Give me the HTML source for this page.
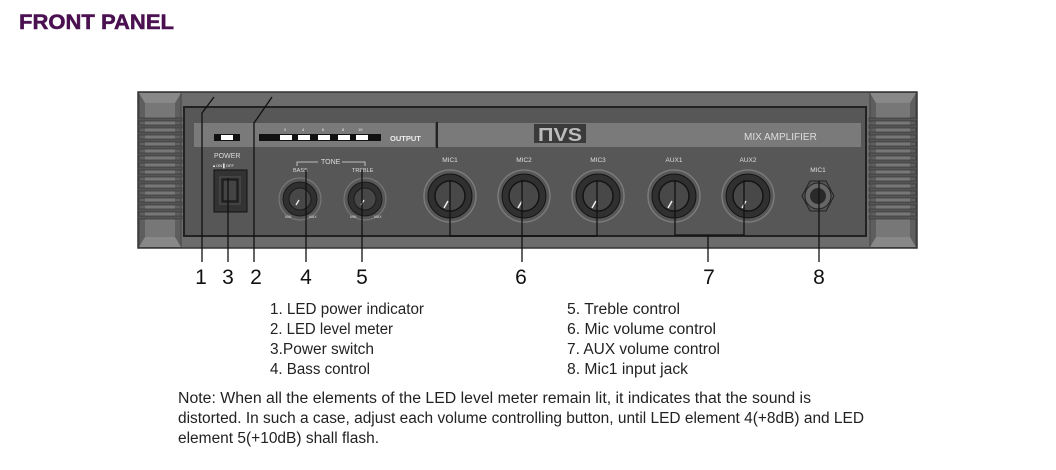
<!DOCTYPE html>
<html><head><meta charset="utf-8"><style>
html,body{margin:0;padding:0;background:#fff;width:1056px;height:470px;overflow:hidden}
svg{display:block}
</style></head><body>
<svg width="1056" height="470" viewBox="0 0 1056 470" xmlns="http://www.w3.org/2000/svg" font-family="Liberation Sans, sans-serif">
<text x="19" y="29" font-size="21" font-weight="bold" fill="#4a1050" stroke="#4a1050" stroke-width="0.5" textLength="155" lengthAdjust="spacingAndGlyphs">FRONT PANEL</text>
<!-- chassis -->
<rect x="138" y="92" width="779" height="156" fill="#6c6c6c" stroke="#333" stroke-width="1.5"/>
<rect x="139" y="93" width="42" height="154" fill="#5e5e5e" stroke="#444"/>
<polygon points="139,93 181,93 175,103 145,103" fill="#888"/>
<polygon points="139,247 181,247 175,237 145,237" fill="#888"/>
<rect x="145" y="103" width="30" height="134" fill="#777"/>
<g fill="#555" stroke="#333" stroke-width="0.6">
<rect x="138" y="118" width="44" height="3"/><rect x="138" y="125" width="44" height="3"/><rect x="138" y="132" width="44" height="3"/><rect x="138" y="139" width="44" height="3"/><rect x="138" y="146" width="44" height="3"/><rect x="138" y="153" width="44" height="3"/><rect x="138" y="160" width="44" height="3"/><rect x="138" y="167" width="44" height="3"/><rect x="138" y="174" width="44" height="3"/><rect x="138" y="181" width="44" height="3"/><rect x="138" y="188" width="44" height="3"/><rect x="138" y="195" width="44" height="3"/><rect x="138" y="202" width="44" height="3"/><rect x="138" y="209" width="44" height="3"/><rect x="138" y="216" width="44" height="3"/>
</g>
<rect x="870" y="93" width="46" height="154" fill="#5e5e5e" stroke="#444"/>
<polygon points="870,93 916,93 910,103 876,103" fill="#888"/>
<polygon points="870,247 916,247 910,237 876,237" fill="#888"/>
<rect x="876" y="103" width="34" height="134" fill="#777"/>
<g fill="#555" stroke="#333" stroke-width="0.6">
<rect x="869" y="118" width="48" height="3"/><rect x="869" y="125" width="48" height="3"/><rect x="869" y="132" width="48" height="3"/><rect x="869" y="139" width="48" height="3"/><rect x="869" y="146" width="48" height="3"/><rect x="869" y="153" width="48" height="3"/><rect x="869" y="160" width="48" height="3"/><rect x="869" y="167" width="48" height="3"/><rect x="869" y="174" width="48" height="3"/><rect x="869" y="181" width="48" height="3"/><rect x="869" y="188" width="48" height="3"/><rect x="869" y="195" width="48" height="3"/><rect x="869" y="202" width="48" height="3"/><rect x="869" y="209" width="48" height="3"/><rect x="869" y="216" width="48" height="3"/>
</g>
<!-- inner panel -->
<rect x="184" y="107" width="682" height="129" fill="#575757" stroke="#222" stroke-width="2"/>
<rect x="194" y="123" width="241" height="24" fill="#7a7a7a"/>
<rect x="436" y="122" width="2" height="26" fill="#222"/>
<rect x="438" y="123" width="423" height="24" fill="#7a7a7a"/>
<rect x="214" y="134" width="26" height="7" fill="#111"/><rect x="221" y="135" width="12" height="5" fill="#fff"/>
<rect x="259" y="134" width="122" height="7" fill="#111"/>
<rect x="280" y="135" width="12" height="5" fill="#fff"/><rect x="298" y="135" width="12" height="5" fill="#fff"/><rect x="318" y="135" width="12" height="5" fill="#fff"/><rect x="338" y="135" width="12" height="5" fill="#fff"/><rect x="356" y="135" width="12" height="5" fill="#fff"/>
<g font-size="4" fill="#eee"><text x="284" y="131">2</text><text x="302" y="131">4</text><text x="322" y="131">6</text><text x="342" y="131">8</text><text x="358" y="131">10</text></g>
<text x="390" y="141" font-size="7.5" font-weight="bold" fill="#eee">OUTPUT</text>
<rect x="534" y="124" width="52" height="19" fill="#3a3a3a"/>
<text x="538" y="141" font-size="18" font-weight="bold" fill="#bbb" textLength="44" lengthAdjust="spacingAndGlyphs">ΠVS</text>
<text x="744" y="140" font-size="10" fill="#ddd">MIX  AMPLIFIER</text>
<text x="214" y="158" font-size="7" fill="#ddd">POWER</text>
<text x="212" y="167" font-size="4" fill="#eee">▲ON ▌OFF</text>
<rect x="214" y="170" width="33" height="42" fill="#333" stroke="#111"/>
<rect x="220" y="177" width="20" height="27" fill="#2a2a2a" stroke="#555"/>
<rect x="223" y="180" width="14" height="21" fill="#444" stroke="#111"/>
<path d="M297 166 V162 H318 M342 162 H365 V166" stroke="#ddd" fill="none" stroke-width="0.8"/>
<text x="321" y="164" font-size="7" fill="#ddd">TONE</text>
<text x="293" y="172" font-size="5.5" fill="#ddd">BASS</text>
<text x="352" y="172" font-size="5.5" fill="#ddd">TREBLE</text>
<g stroke="#777" stroke-width="1.2" fill="none"><circle cx="300" cy="199" r="21"/><circle cx="365" cy="199" r="21"/></g>
<g fill="#303030" stroke="#1a1a1a"><circle cx="300" cy="199" r="17"/><circle cx="365" cy="199" r="17"/></g>
<g fill="#474747" stroke="#1a1a1a"><circle cx="300" cy="199" r="11"/><circle cx="365" cy="199" r="11"/></g>
<g stroke="#eee" stroke-width="1.3"><line x1="296" y1="205" x2="299" y2="200"/><line x1="361" y1="205" x2="364" y2="200"/></g>
<g font-size="3.5" fill="#ddd"><text x="285" y="218">MIN</text><text x="309" y="218">MAX</text><text x="350" y="218">MIN</text><text x="374" y="218">MAX</text></g>
<g font-size="6.5" fill="#ddd" text-anchor="middle">
<text x="450" y="162">MIC1</text><text x="524" y="162">MIC2</text><text x="598" y="162">MIC3</text><text x="674" y="162">AUX1</text><text x="748" y="162">AUX2</text><text x="818" y="172">MIC1</text>
</g>
<g stroke="#7a7a7a" stroke-width="1.5" fill="none">
<circle cx="450" cy="196" r="26"/><circle cx="524" cy="196" r="26"/><circle cx="598" cy="196" r="26"/><circle cx="674" cy="196" r="26"/><circle cx="748" cy="196" r="26"/>
</g>
<g fill="#303030" stroke="#151515"><circle cx="450" cy="196" r="22"/><circle cx="524" cy="196" r="22"/><circle cx="598" cy="196" r="22"/><circle cx="674" cy="196" r="22"/><circle cx="748" cy="196" r="22"/></g>
<g fill="#484848" stroke="#151515" stroke-width="1.5"><circle cx="450" cy="196" r="15"/><circle cx="524" cy="196" r="15"/><circle cx="598" cy="196" r="15"/><circle cx="674" cy="196" r="15"/><circle cx="748" cy="196" r="15"/></g>
<g stroke="#eee" stroke-width="1.5"><line x1="444" y1="208" x2="448" y2="201"/><line x1="518" y1="208" x2="522" y2="201"/><line x1="592" y1="208" x2="596" y2="201"/><line x1="668" y1="208" x2="672" y2="201"/><line x1="742" y1="208" x2="746" y2="201"/></g>
<polygon points="810,181 826,181 834,196 826,211 810,211 802,196" fill="#555" stroke="#222"/>
<circle cx="818" cy="196" r="13" fill="#666" stroke="#222"/>
<circle cx="818" cy="196" r="8" fill="#2a2a2a"/>
<g stroke="#111" stroke-width="1.3" fill="none">
<path d="M214 97 L202 113 V262"/>
<path d="M272 97 L254 123 V262"/>
<path d="M228 178 V262"/>
<path d="M306 170 V262"/>
<path d="M362 170 V262"/>
<path d="M450 180 V236 H597 M597 180 V236 M522 180 V262"/>
<path d="M675 180 V235 H744 V180 M708 235 V262"/>
<path d="M819 181 V262"/>
</g>
<g font-size="21" fill="#111" text-anchor="middle">
<text x="201" y="284">1</text><text x="228" y="284">3</text><text x="256" y="284">2</text><text x="306" y="284">4</text><text x="362" y="284">5</text><text x="521" y="284">6</text><text x="709" y="284">7</text><text x="819" y="284">8</text>
</g>
<g font-size="15.5" fill="#222" lengthAdjust="spacingAndGlyphs">
<text x="270" y="314" textLength="154" lengthAdjust="spacingAndGlyphs">1. LED power indicator</text>
<text x="270" y="334" textLength="123" lengthAdjust="spacingAndGlyphs">2. LED level meter</text>
<text x="270" y="354" textLength="104" lengthAdjust="spacingAndGlyphs">3.Power switch</text>
<text x="270" y="374" textLength="100" lengthAdjust="spacingAndGlyphs">4. Bass control</text>
<text x="567" y="314" textLength="113" lengthAdjust="spacingAndGlyphs">5. Treble control</text>
<text x="567" y="334" textLength="149" lengthAdjust="spacingAndGlyphs">6. Mic volume control</text>
<text x="567" y="354" textLength="153" lengthAdjust="spacingAndGlyphs">7. AUX volume control</text>
<text x="567" y="374" textLength="121" lengthAdjust="spacingAndGlyphs">8. Mic1 input jack</text>
<text x="178" y="403" textLength="633" lengthAdjust="spacingAndGlyphs">Note: When all the elements of the LED level meter remain lit, it indicates that the sound is</text>
<text x="178" y="423" textLength="686" lengthAdjust="spacingAndGlyphs">distorted. In such a case, adjust each volume controlling button, until LED element 4(+8dB) and LED</text>
<text x="178" y="443" textLength="201" lengthAdjust="spacingAndGlyphs">element 5(+10dB) shall flash.</text>
</g>
</svg>
</body></html>
